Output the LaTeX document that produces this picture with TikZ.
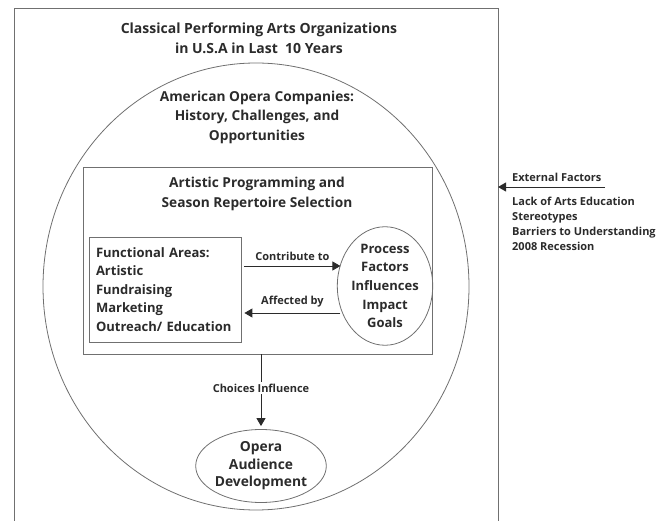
\documentclass[tikz,border=0pt]{standalone}
\usepackage{fontspec}
\setmainfont{Open Sans}
\usetikzlibrary{shapes.geometric,arrows.meta}

\definecolor{linegray}{HTML}{707070}
\definecolor{inkgray}{HTML}{2B2B2B}

\tikzset{
  heading/.style={font=\bfseries\fontsize{13.7}{19.5}\selectfont, text=inkgray, align=center, inner sep=0pt},
  body/.style={font=\bfseries\fontsize{13}{18.6}\selectfont, text=inkgray, inner sep=0pt},
  small/.style={font=\bfseries\fontsize{11}{15}\selectfont, text=inkgray, inner sep=0pt},
  frame/.style={draw=linegray, line width=0.8pt},
  flow/.style={draw=inkgray, line width=0.9pt, -{Triangle[length=8pt,width=9pt]}},
}

\begin{document}
\begin{tikzpicture}[x=1pt,y=-1pt]
    \useasboundingbox (0,0) rectangle (664,521);
    % outer frame, open at the bottom
    \draw[frame] (14,521) -- (14,8) -- (498,8) -- (498,521);
    \node[heading, font=\bfseries\fontsize{14}{20}\selectfont] (title) at (259,38) {Classical Performing Arts Organizations\\in U.S.A in Last\ \ 10 Years};

    % opera companies
    \node[frame, ellipse, inner sep=0pt, minimum width=426pt, minimum height=447pt] (opera) at (256,286.5) {};
    \node[heading] (operatxt) at (257,117) {American Opera Companies:\\History, Challenges, and\\Opportunities};

    % programming box
    \node[frame, minimum width=349pt, minimum height=187pt, inner sep=0pt] (prog) at (257.5,260.5) {};
    \node[heading] (progtxt) at (257,194) {Artistic Programming and\\Season Repertoire Selection};

    \node[frame, body, align=left, text width=138pt, minimum height=105pt, inner xsep=7pt] (func) at (165,289.5)
        {Functional Areas:\\Artistic\\Fundraising\\Marketing\\Outreach/ Education};
    \node[frame, body, align=center, ellipse, inner sep=0pt, minimum width=84pt, minimum height=108pt] (proc) at (385,286)
        {Process\\Factors\\Influences\\Impact\\Goals};

    \draw[flow] ([shift={(3pt,23.5pt)}]func.east) -- ++(96,0)
        node[small, midway, above=5pt] {Contribute to};
    \draw[flow] ([shift={(99pt,-23.5pt)}]func.east) -- ([shift={(3pt,-23.5pt)}]func.east)
        node[small, midway, above=5pt] {Affected by};

    % audience
    \node[frame, heading, ellipse, inner sep=0pt, minimum width=113pt, minimum height=73pt, font=\bfseries\fontsize{13.8}{17.5}\selectfont] (aud) at (261,466)
        {Opera\\Audience\\Development};
    \draw[flow] (prog.south -| aud) -- ([yshift=3pt]aud.north)
        node[small, pos=0.47, fill=white, inner sep=2pt] {Choices Influence};

    % external factors
    \coordinate (ext) at (605,187);
    \coordinate (edge) at (498,187);
    \draw[flow] (ext) -- (edge);
    \node[small, anchor=base west] (extlbl) at (512,182) {External Factors};
    \node[small, anchor=north west, align=left] (extlist) at (512,197)
        {Lack of Arts Education\\Stereotypes\\Barriers to Understanding\\2008 Recession};
\end{tikzpicture}
\end{document}
